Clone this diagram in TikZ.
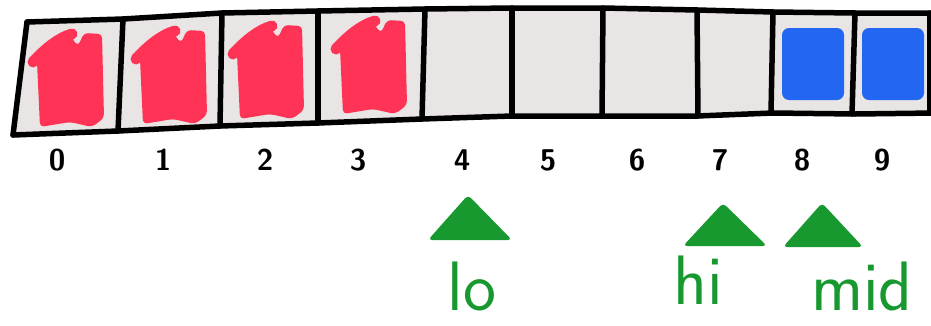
\documentclass[tikz,border=0pt]{standalone}
\usepackage{tikz}
\usetikzlibrary{positioning}
\definecolor{cellgrey}{HTML}{EAE5E5}
\definecolor{redink}{HTML}{FF3355}
\definecolor{blueink}{HTML}{2266F2}
\definecolor{greenink}{HTML}{17992F}

\begin{document}
\begin{tikzpicture}[x=1pt, y=-1pt, line width=5.5pt, line join=round, line cap=round,
    idx/.style={font=\sffamily\bfseries\fontsize{30}{30}\selectfont, inner sep=0pt},
    ptrlabel/.style={font=\sffamily\fontsize{70}{70}\selectfont, text=greenink, inner sep=0pt, anchor=base}]
\useasboundingbox (0,0) rectangle (931,325);
% cells background
\fill[cellgrey] (27,22) -- (123,19) -- (222,13) -- (318,11) -- (425,9) -- (512,8) -- (603,8)
    -- (697,10) -- (773,12) -- (855,13) -- (931,13) -- (931,113) -- (855,114) -- (773,113)
    -- (697,116) -- (603,116) -- (512,116) -- (422,119) -- (318,123) -- (220,126) -- (118,131)
    -- (13,135) -- cycle;
% red scribbles
\foreach \x/\y in {30/30, 133/27, 230/22, 333/17} {
    \begin{scope}[shift={(\x,\y)}]
    \fill[redink, rounded corners=4pt]
        (7,32) -- (22,19) -- (40,6) -- (48,16) -- (54,3) -- (72,4)
        -- (74,88) -- (62,97) -- (40,92) -- (10,97) -- cycle;
    \draw[redink, line width=11pt] (3,32) .. controls (14,20) and (28,8) .. (42,4);
    \end{scope}
}
% blue scribbles
\foreach \x in {782, 862} {
    \fill[blueink, rounded corners=7pt] (\x,28) rectangle ++(62,72);
}
% outline
\draw (27,22) -- (123,19) -- (222,13) -- (318,11) -- (425,9) -- (512,8) -- (603,8)
    -- (697,10) -- (773,12) -- (855,13) -- (935,13);
\draw (13,135) -- (118,131) -- (220,126) -- (318,123) -- (422,119) -- (512,116) -- (603,116)
    -- (697,116) -- (773,113) -- (855,114) -- (935,113);
\foreach \xt/\yt/\xb/\yb in {27/22/13/135, 123/19/118/131, 222/13/220/126, 318/11/318/123,
    425/9/422/119, 512/8/512/116, 603/8/602/116, 697/10/698/116, 773/12/771/113,
    855/13/852/114, 930/13/930/113} {
    \draw (\xt,\yt) -- (\xb,\yb);
}
% indices
\foreach \i/\x in {0/57, 1/163, 2/265, 3/358, 4/462, 5/548, 6/637, 7/720, 8/802, 9/882} {
    \node[idx] (i\i) at (\x,160) {\i};
}
% pointers
\coordinate (lotip) at (468,195);
\coordinate (hitip) at (723,203);
\coordinate (midtip) at (822,203);
\fill[greenink, rounded corners=4pt] (lotip) -- ++(44,45) -- ++(-84,0) -- cycle;
\fill[greenink, rounded corners=4pt] (hitip) -- ++(44,43) -- ++(-84,0) -- cycle;
\fill[greenink, rounded corners=4pt] (midtip) -- ++(41,44) -- ++(-80,0) -- cycle;
\node[ptrlabel] (lo) at (472,310) {lo};
\node[ptrlabel] (hi) at (698,304) {hi};
\node[ptrlabel] (mid) at (862,310) {mid};
\end{tikzpicture}
\end{document}
